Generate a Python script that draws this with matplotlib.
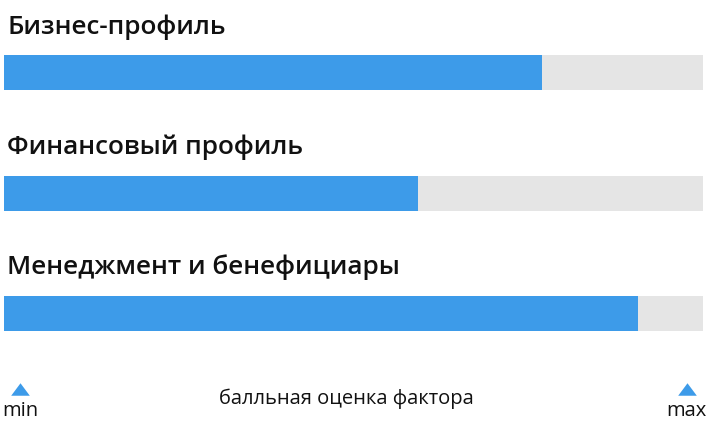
import matplotlib
matplotlib.use("Agg")
import matplotlib.pyplot as plt

categories = ["Бизнес-профиль", "Финансовый профиль", "Менеджмент и бенефициары"]
scores = [77, 59.2, 90.7]
scale_max = 100
axis_label = "балльная оценка фактора"
end_labels = ["min", "max"]

BLUE = "#3d9be9"
GRAY = "#e5e5e5"
W, H = 706, 428

fig = plt.figure(figsize=(W / 100, H / 100), dpi=100)
ax = fig.add_axes([4 / W, 0, 699 / W, 1])
ax.set_xlim(0, scale_max)
ax.set_ylim(H, 0)
ax.axis("off")

for i, (cat, val) in enumerate(zip(categories, scores)):
    yc = 72.5 + i * 120.5
    ax.barh(yc, scale_max, height=35, color=GRAY, left=0)
    ax.barh(yc, val, height=35, color=BLUE, left=0)
    ax.text(0.45, yc - 39, cat, fontsize=18.8, fontfamily="Open Sans",
            fontweight="semibold", color="#111111", va="baseline", ha="left")

# bottom scale markers
tri = [(-1, -0.67), (1, -0.67), (0, 0.67)]
ax.scatter([2.3, 97.7], [388.5, 388.5], marker=tri, s=180, color=BLUE, linewidths=0)
fig.text(20 / W, 1 - 416 / H, end_labels[0], ha="center", va="baseline",
         fontsize=14.5, fontfamily="Open Sans", color="#111111")
fig.text(686 / W, 1 - 416 / H, end_labels[1], ha="center", va="baseline",
         fontsize=14.5, fontfamily="Open Sans", color="#111111")
fig.text(346 / W, 1 - 404 / H, axis_label, ha="center", va="baseline",
         fontsize=14.5, fontfamily="Open Sans", color="#111111")

fig.savefig("out.png", dpi=100)
